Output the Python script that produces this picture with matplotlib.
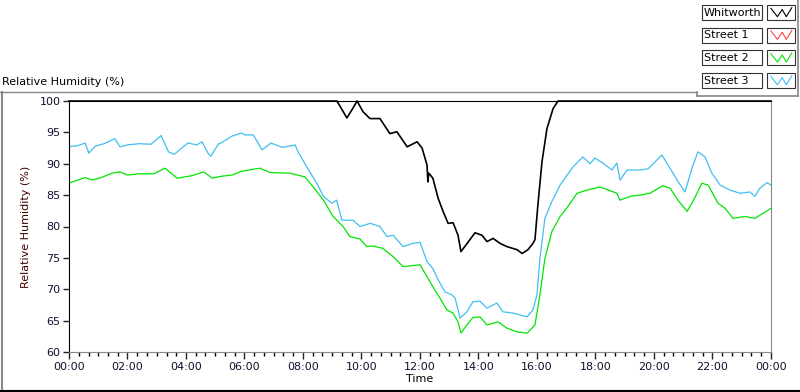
import matplotlib.pyplot as plt
from matplotlib.lines import Line2D
from matplotlib.patches import Rectangle

# hours since midnight and relative humidity (%)
whit_h = [0, 9.16, 9.35, 9.5, 9.7, 9.85, 10.05, 10.29, 10.63, 10.97, 11.21, 11.56, 11.9,
          12.07, 12.24, 12.27, 12.3, 12.44, 12.62, 12.79, 12.96, 13.13, 13.3, 13.4, 13.61,
          13.88, 14.12, 14.29, 14.5, 14.74, 14.97, 15.32, 15.49, 15.69, 15.86, 15.93, 16.03,
          16.17, 16.34, 16.55, 16.72, 24]
whit_v = [100, 100, 98.5, 97.3, 98.8, 100, 98.3, 97.2, 97.2, 94.8, 95.1, 92.7, 93.5,
          92.5, 89.8, 87.1, 88.5, 87.7, 84.5, 82.4, 80.5, 80.6, 78.6, 76.0, 77.3,
          79.0, 78.6, 77.6, 78.1, 77.3, 76.8, 76.3, 75.7, 76.3, 77.3, 77.9, 83.4,
          90.3, 95.6, 98.8, 100, 100]

st2_h = [0, 0.3, 0.55, 0.8, 1.1, 1.47, 1.74, 2.0, 2.4, 2.9, 3.28, 3.7, 4.2, 4.6, 4.9, 5.2,
         5.57, 5.9, 6.53, 6.87, 7.55, 8.07, 8.35, 8.7, 9.03, 9.37, 9.6, 9.95, 10.18, 10.4,
         10.73, 11.08, 11.42, 12.0, 12.24, 12.44, 12.68, 12.92, 13.13, 13.3, 13.4, 13.6,
         13.81, 14.05, 14.29, 14.67, 14.97, 15.32, 15.66, 15.93, 16.1, 16.27, 16.51, 16.79,
         17.06, 17.37, 17.71, 18.15, 18.5, 18.73, 18.84, 19.18, 19.52, 19.86, 20.3, 20.55,
         20.82, 21.13, 21.33, 21.64, 21.85, 22.19, 22.43, 22.7, 23.11, 23.45, 23.73, 24.0]
st2_v = [86.9, 87.4, 87.8, 87.4, 87.8, 88.5, 88.7, 88.2, 88.4, 88.4, 89.3, 87.7, 88.1, 88.7,
         87.7, 88.0, 88.2, 88.8, 89.3, 88.6, 88.5, 87.9, 86.3, 84.2, 81.6, 80.0, 78.4, 78.0,
         76.8, 76.9, 76.5, 75.2, 73.6, 73.9, 72.0, 70.4, 68.6, 66.7, 66.2, 64.8, 63.0, 64.3,
         65.5, 65.6, 64.3, 64.8, 63.8, 63.2, 63.0, 64.3, 69.1, 74.9, 79.2, 81.6,
         83.2, 85.3, 85.8, 86.3, 85.7, 85.3, 84.2, 84.8, 85.0, 85.3, 86.5, 86.1,
         84.2, 82.4, 84.0, 86.9, 86.6, 83.7, 82.9, 81.3, 81.6, 81.3, 82.1, 82.9]

st3_h = [0, 0.3, 0.55, 0.68, 0.9, 1.2, 1.57, 1.74, 2.0, 2.4, 2.8, 3.15, 3.4, 3.6, 3.85,
         4.07, 4.37, 4.55, 4.75, 4.85, 5.1, 5.3, 5.57, 5.9, 6.0, 6.3, 6.6, 6.9, 7.3, 7.73,
         7.83, 8.13, 8.47, 8.7, 8.99, 9.15, 9.33, 9.71, 9.95, 10.3, 10.63, 10.87, 11.08,
         11.42, 11.75, 12.0, 12.24, 12.44, 12.62, 12.85, 13.09, 13.2, 13.37, 13.6, 13.81,
         14.05, 14.29, 14.63, 14.84, 15.18, 15.42, 15.66, 15.86, 16.0, 16.1, 16.27, 16.51,
         16.79, 17.03, 17.23, 17.57, 17.81, 17.98, 18.26, 18.56, 18.73, 18.84, 19.08, 19.52,
         19.8, 20.1, 20.27, 20.48, 20.79, 21.06, 21.3, 21.5, 21.74, 21.98, 22.26, 22.6,
         22.94, 23.28, 23.45, 23.62, 23.86, 24.0]
st3_v = [92.7, 92.9, 93.3, 91.7, 92.8, 93.2, 94.0, 92.7, 93.0, 93.2, 93.1, 94.5, 91.9, 91.5,
         92.5, 93.3, 93.0, 93.5, 91.7, 91.2, 93.1, 93.6, 94.4, 94.9, 94.6, 94.6, 92.2, 93.3,
         92.6, 93.0, 91.9, 89.5, 86.9, 84.8, 83.7, 84.2, 81.0, 81.0, 80.0, 80.5, 80.0, 78.4,
         78.6, 76.8, 77.3, 77.5, 74.4, 73.3, 71.5, 69.6, 69.1, 68.6, 65.4, 66.4, 68.0,
         68.1, 67.0, 67.8, 66.4, 66.2, 65.9, 65.6, 66.7, 69.1, 74.9, 81.3, 84.0,
         86.6, 88.2, 89.5, 91.1, 90.0, 90.9, 90.1, 89.0, 90.1, 87.4, 89.0, 89.0,
         89.2, 90.6, 91.4, 89.8, 87.4, 85.5, 89.3, 91.9, 91.1, 88.5, 86.6, 85.8,
         85.3, 85.5, 84.8, 86.1, 87.0, 86.6]

names = ["Whitworth", "Street 1", "Street 2", "Street 3"]
colors = ["black", "#ff4040", "#00e600", "#40bff0"]
xticks = list(range(0, 25, 2))
xlabels = ["%02d:00" % (h % 24) for h in xticks]

fig = plt.figure(figsize=(8, 3.92), dpi=100)
ax = fig.add_axes([69/800, 1-352/392, 702/800, 251/392])

ax.plot(st2_h, st2_v, color=colors[2], lw=0.9)
ax.plot(st3_h, st3_v, color=colors[3], lw=0.9)
ax.plot(whit_h, whit_v, color=colors[0], lw=1.2, clip_on=False)

ax.set_xlim(0, 24)
ax.set_ylim(60, 100)
ax.set_xticks(xticks)
ax.set_xticklabels(xlabels)
ax.set_xticks([i/3 for i in range(73)], minor=True)
ax.set_yticks(range(60, 101, 5))
ax.tick_params(axis="both", labelsize=8, colors="#222", labelcolor="#101030")
ax.tick_params(axis="x", which="major", length=5, width=1, pad=2)
ax.tick_params(axis="x", which="minor", length=3, width=1)
ax.tick_params(axis="y", length=4, width=1, pad=2)
for s in ["left", "top"]:
    ax.spines[s].set_color("black")
for s in ["bottom", "right"]:
    ax.spines[s].set_color("#888888")
ax.set_xlabel("Time", fontsize=8, labelpad=2)
ax.set_ylabel("Relative Humidity (%)", fontsize=8, color="#400000", labelpad=6)

# LabVIEW style frame and title
fig.text(2/800, 1-82/392, "Relative Humidity (%)", fontsize=8, va="center", ha="left")
fig.add_artist(Line2D([0, 697/800], [1-92/392]*2, color="#888888", lw=1))
fig.add_artist(Line2D([1.5/800]*2, [1-92/392, 1-390/392], color="#888888", lw=1.5))
fig.add_artist(Line2D([0, 1], [1-390.5/392]*2, color="black", lw=1.5))
fig.add_artist(Line2D([797.5/800]*2, [1, 1-96/392], color="#888888", lw=1.2))
fig.add_artist(Line2D([697/800, 798/800], [1-96/392]*2, color="#888888", lw=1.2))
fig.add_artist(Line2D([697/800]*2, [1-92/392, 1-96/392], color="#888888", lw=1.2))

# legend boxes
for i, (n, c) in enumerate(zip(names, colors)):
    top = 5 + i*22.7
    y0 = 1-(top+15)/392
    hh = 15/392
    fig.add_artist(Rectangle((702/800, y0), 60/800, hh, fill=False, ec="#333", lw=0.8))
    fig.add_artist(Rectangle((767/800, y0), 28/800, hh, fill=False, ec="#333", lw=0.8))
    fig.text(704/800, y0 + hh/2, n, fontsize=8, va="center", ha="left", color="black")
    zx = [0.08, 0.35, 0.55, 0.72, 0.95]
    zy = [0.85, 0.15, 0.75, 0.15, 0.9]
    fig.add_artist(Line2D([(769 + 24*u)/800 for u in zx],
                          [y0 + hh*(0.1 + 0.8*v) for v in zy], color=c, lw=0.8))

fig.savefig("out.png", dpi=100)
